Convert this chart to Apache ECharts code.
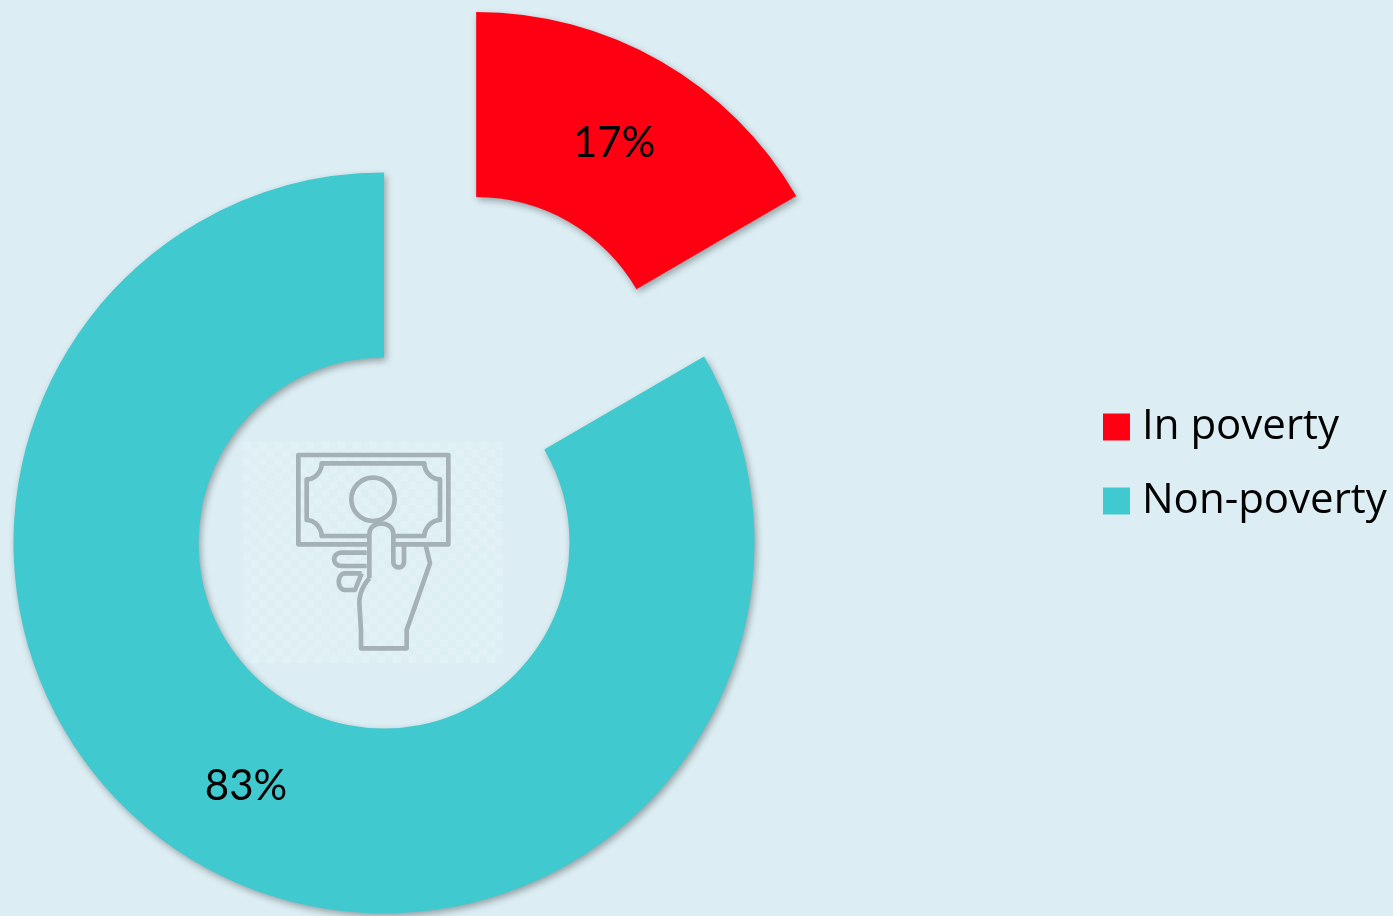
<!DOCTYPE html>
<html><head><meta charset="utf-8">
<style>html,body{margin:0;padding:0;background:#dceef4}#c{width:1393px;height:916px}</style>
<script src="https://cdn.jsdelivr.net/npm/echarts@6/dist/echarts.min.js"></script>
</head><body><div id="c"></div>
<script>
var categories = ['In poverty', 'Non-poverty'];
var values = [16.6, 83.4];
var colors = ['#ff0012', '#40c9ce'];
var labelShift = [[-2, 5], [2, 0]];

// Decorative icon (zoomed-crop units; C = cubic curve to the last three points)
function L(x, y) { return [x, y]; }
function C(a, b, c, d, e, f) { return ['C', a, b, c, d, e, f]; }
var iconLines = [
  [L(412,343), L(205,343), L(205,75), L(655,75), L(655,343), L(492,343)],
  [L(412,318), L(275,318), C(275,295,255,270,230,270), L(230,148), C(255,148,275,125,275,100), L(583,100), C(583,125,605,148,630,148), L(630,270), C(605,270,583,295,583,318), L(492,318)],
  [L(418,445), L(418,312), C(418,270,490,270,490,312), L(490,395), C(490,418,522,418,522,395), L(522,345)],
  [L(587,345), L(600,400), L(530,600), L(530,655), L(393,655), L(393,600), L(388,520), C(388,490,400,465,418,445)],
  [L(410,368), L(335,368), C(305,368,305,408,335,408), L(410,408)],
  [L(395,430), L(345,430), C(320,430,320,480,345,480), L(375,480), L(395,430)]
];
function expand(line) {
  var pts = [];
  line.forEach(function (s) {
    if (s[0] !== 'C') { pts.push(s); return; }
    var p0 = pts[pts.length - 1];
    for (var i = 1; i <= 12; i++) {
      var t = i / 12, u = 1 - t;
      pts.push([
        u*u*u*p0[0] + 3*u*u*t*s[1] + 3*u*t*t*s[3] + t*t*t*s[5],
        u*u*u*p0[1] + 3*u*u*t*s[2] + 3*u*t*t*s[4] + t*t*t*s[6]
      ]);
    }
  });
  return pts;
}
var iconStroke = { stroke: '#a4b1b6', lineWidth: 14, fill: null, lineJoin: 'round' };
var iconChildren = [
  { type: 'rect', shape: { x: 40, y: 35, width: 780, height: 665 }, style: { fill: 'rgba(255,255,255,0.07)' } }
];
for (var r = 0; r < 28; r++) for (var k = 0; k < 33; k++) if ((r + k) % 2 === 0) {
  iconChildren.push({ type: 'rect', shape: { x: 40 + k * 23.6, y: 35 + r * 23.75, width: 23.6, height: 23.75 }, style: { fill: 'rgba(255,255,255,0.12)' } });
}
iconChildren.push({ type: 'circle', shape: { cx: 429, cy: 208, r: 65 }, style: { stroke: '#a4b1b6', lineWidth: 14, fill: 'rgba(0,0,0,0)' } });
iconLines.forEach(function (l) {
  iconChildren.push({ type: 'polyline', shape: { points: expand(l) }, style: iconStroke });
});

var chart = echarts.init(document.getElementById('c'), null, { renderer: 'canvas' });
chart.setOption({
  animation: false,
  backgroundColor: '#dceef4',
  legend: {
    orient: 'vertical', left: 1098, top: 399, padding: 5,
    itemWidth: 27, itemHeight: 27, itemGap: 28, icon: 'rect',
    selectedMode: false, data: categories,
    textStyle: { fontFamily: 'Open Sans', fontSize: 42, color: '#000', padding: [6, 0, 0, 7], height: 40, lineHeight: 40 }
  },
  series: [{
    type: 'pie', silent: true, center: [384, 543], radius: [185.5, 370.5],
    startAngle: 90, clockwise: true, avoidLabelOverlap: false,
    selectedMode: 'multiple', selectedOffset: 185,
    itemStyle: { shadowBlur: 7, shadowOffsetX: 2, shadowOffsetY: 3, shadowColor: 'rgba(0,0,0,0.33)' },
    label: {
      position: 'inside', fontFamily: 'Lato', fontSize: 42, color: '#000',
      formatter: function (p) { return Math.round(p.value) + '%'; }
    },
    labelLayout: function (p) { return { dx: labelShift[p.dataIndex][0], dy: labelShift[p.dataIndex][1] }; },
    labelLine: { show: false },
    data: categories.map(function (c, i) {
      return { name: c, value: values[i], selected: i === 0, itemStyle: { color: colors[i] } };
    })
  }],
  graphic: [{ type: 'group', x: 230, y: 430, scaleX: 1 / 3, scaleY: 1 / 3, silent: true, z: 10, children: iconChildren }]
});
</script></body></html>
